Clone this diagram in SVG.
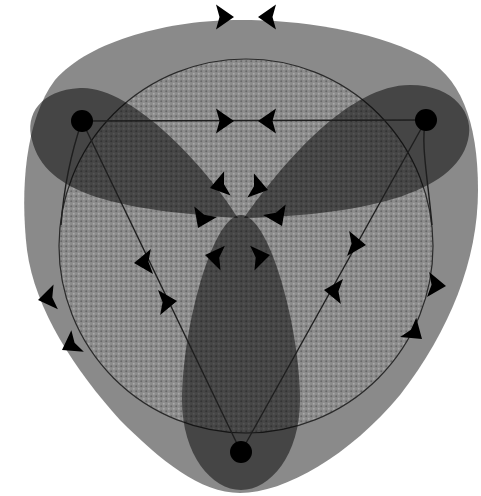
<svg xmlns="http://www.w3.org/2000/svg" width="481" height="496" viewBox="0 0 481 496">
<defs>
<pattern id="dots" width="5" height="5" patternUnits="userSpaceOnUse">
<rect width="5" height="5" fill="#8c8c8c"/>
<circle cx="1.25" cy="1.25" r="1" fill="#696969"/>
<circle cx="3.75" cy="3.75" r="1" fill="#a9a9a9"/>
</pattern>
<polygon id="ah" points="0,0 -18,-12.5 -14.5,0 -18,12.5"/>
</defs>
<style>
.blob{fill:#8a8a8a}
.disc{fill:url(#dots);stroke:#2a2a2a;stroke-width:1.2}
.petal{fill:#000;fill-opacity:0.5}
.edge{fill:none;stroke:#1e1e1e;stroke-width:1.4}
.arr{fill:#000}
.node{fill:#000}
</style>
<rect width="481" height="496" fill="#fff"/>
<g id="region-outer"><path class="blob" d="M240,20 C300,20 370,30 420,55 C460,75 478,120 478,190 C478,260 450,330 400,395 C350,455 285,493 240,493 C200,493 160,460 120,420 C75,370 35,310 27,250 C20,190 25,120 55,80 C90,40 170,20 240,20 Z"/></g>
<g id="region-disc"><circle class="disc" cx="246" cy="246" r="187"/></g>
<g id="petal-left"><path class="petal" d="M238,218 C205,165 130,85 80,88 C40,90 25,115 32,140 C45,195 120,210 238,218 Z"/></g>
<g id="petal-right"><path class="petal" d="M244,218 C285,160 350,85 410,85 C455,85 475,115 468,140 C455,195 360,215 244,218 Z"/></g>
<g id="petal-bottom"><path class="petal" d="M241,215 C270,215 300,330 300,400 C300,455 270,490 241,490 C212,490 182,455 182,400 C182,330 212,215 241,215 Z"/></g>
<g id="connectors">
<path class="edge" d="M82,121 L426,120"/>
<path class="edge" d="M82,121 L241,452"/>
<path class="edge" d="M426,120 L241,452"/>
<path class="edge" d="M82,121 C72,150 64,185 61,225"/>
<path class="edge" d="M426,120 C420,140 428,180 432,225"/>
<use href="#ah" class="arr" transform="translate(234,17)"/>
<use href="#ah" class="arr" transform="translate(258,17) rotate(180)"/>
<use href="#ah" class="arr" transform="translate(234,121)"/>
<use href="#ah" class="arr" transform="translate(258,121) rotate(180)"/>
<use href="#ah" class="arr" transform="translate(134,263) rotate(175)"/>
<use href="#ah" class="arr" transform="translate(177,301) rotate(-5)"/>
<use href="#ah" class="arr" transform="translate(366,245) rotate(5)"/>
<use href="#ah" class="arr" transform="translate(324,290) rotate(185)"/>
<use href="#ah" class="arr" transform="translate(38,300) rotate(170)"/>
<use href="#ah" class="arr" transform="translate(62,350) rotate(150)"/>
<use href="#ah" class="arr" transform="translate(446,286) rotate(5)"/>
<use href="#ah" class="arr" transform="translate(422,339) rotate(40)"/>
<use href="#ah" class="arr" transform="translate(210,188) rotate(165)"/>
<use href="#ah" class="arr" transform="translate(268,190) rotate(15)"/>
<use href="#ah" class="arr" transform="translate(198,228) rotate(115)"/>
<use href="#ah" class="arr" transform="translate(282,226) rotate(65)"/>
<use href="#ah" class="arr" transform="translate(205,255) rotate(190)"/>
<use href="#ah" class="arr" transform="translate(270,255) rotate(-10)"/>
</g>
<g id="node-a"><circle class="node" cx="82" cy="121" r="11"/></g>
<g id="node-b"><circle class="node" cx="426" cy="120" r="11"/></g>
<g id="node-c"><circle class="node" cx="241" cy="452" r="11"/></g>
</svg>
